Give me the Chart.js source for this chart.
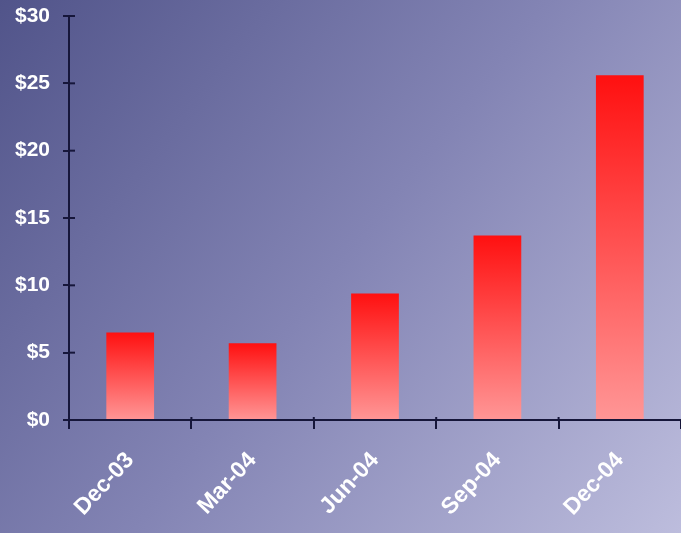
<!DOCTYPE html>
<html lang="en">
<head>
    <meta charset="UTF-8">
    <title>Quarterly values</title>
    <script src="https://cdn.jsdelivr.net/npm/chart.js"></script>
    <style>
        html, body { margin: 0; padding: 0; }
        body { width: 681px; height: 533px; overflow: hidden; }
        #wrap { position: relative; width: 681px; height: 533px; }
    </style>
</head>
<body>
    <div id="wrap"><canvas id="barChart"></canvas></div>

    <script>
        // Values
        const quarters = ['Dec-03', 'Mar-04', 'Jun-04', 'Sep-04', 'Dec-04'];
        const amounts = [6.5, 5.7, 9.4, 13.7, 25.6];
        const yTicks = [0, 5, 10, 15, 20, 25, 30];

        const axisColor = '#16163a';

        // Diagonal blue-lavender backdrop
        const backdrop = {
            id: 'backdrop',
            beforeDraw(chart) {
                const { ctx, width, height } = chart;
                const g = ctx.createLinearGradient(0, 0, width, height);
                g.addColorStop(0, '#51548a');
                g.addColorStop(0.5, '#8384b4');
                g.addColorStop(1, '#bdbddd');
                ctx.save();
                ctx.fillStyle = g;
                ctx.fillRect(0, 0, width, height);
                ctx.restore();
            }
        };

        // Tick marks that cross the axes (inner half)
        const innerTicks = {
            id: 'innerTicks',
            afterDraw(chart) {
                const { ctx } = chart;
                const y = chart.scales.y, x = chart.scales.x;
                ctx.save();
                ctx.strokeStyle = axisColor;
                ctx.lineWidth = 2;
                y.ticks.forEach(t => {
                    const py = y.getPixelForValue(t.value);
                    ctx.beginPath();
                    ctx.moveTo(y.right, py);
                    ctx.lineTo(y.right + 6, py);
                    ctx.stroke();
                });
                for (let i = 0; i < quarters.length; i++) {
                    const px = x.getPixelForValue(i) - x.width / quarters.length / 2;
                    ctx.beginPath();
                    ctx.moveTo(px, x.top);
                    ctx.lineTo(px, x.top - 3);
                    ctx.stroke();
                }
                ctx.restore();
            }
        };

        function barFill(context) {
            const chart = context.chart;
            const y = chart.scales.y;
            if (!y || !chart.chartArea) return '#ff3030';
            const top = y.getPixelForValue(context.raw);
            const base = y.getPixelForValue(0);
            const g = chart.ctx.createLinearGradient(0, top, 0, base);
            g.addColorStop(0, '#ff1010');
            g.addColorStop(1, '#ff9696');
            return g;
        }

        new Chart(document.getElementById('barChart'), {
            type: 'bar',
            data: {
                labels: quarters,
                datasets: [{
                    data: amounts,
                    backgroundColor: barFill,
                    borderWidth: 0,
                    barPercentage: 0.39,
                    categoryPercentage: 1.0
                }]
            },
            options: {
                responsive: true,
                maintainAspectRatio: false,
                animation: false,
                layout: { padding: { top: 16, right: 0, left: 0, bottom: 0 } },
                plugins: { legend: { display: false }, tooltip: { enabled: false } },
                scales: {
                    x: {
                        grid: { display: true, drawOnChartArea: false, offset: true, color: axisColor, lineWidth: 2, tickLength: 9 },
                        border: { color: axisColor, width: 2 },
                        ticks: {
                            color: '#ffffff',
                            font: { family: "'Liberation Sans', Arial, sans-serif", size: 23, weight: 'bold' },
                            maxRotation: 47,
                            minRotation: 47,
                            padding: 18
                        },
                        afterFit(scale) {
                            scale.height = 113;
                            scale.paddingLeft = 0;
                            scale.paddingRight = 0;
                        }
                    },
                    y: {
                        min: 0,
                        max: 30,
                        afterBuildTicks(scale) { scale.ticks = yTicks.map(v => ({ value: v })); },
                        grid: { display: true, drawOnChartArea: false, color: axisColor, lineWidth: 2, tickLength: 6 },
                        border: { color: axisColor, width: 2 },
                        ticks: {
                            color: '#ffffff',
                            font: { family: "'Liberation Sans', Arial, sans-serif", size: 21, weight: 'bold' },
                            padding: 13,
                            callback: v => '$' + v
                        },
                        afterFit(scale) {
                            scale.width = 69;
                            scale.paddingTop = 0;
                            scale.paddingBottom = 0;
                        }
                    }
                }
            },
            plugins: [backdrop, innerTicks]
        });
    </script>
</body>
</html>
